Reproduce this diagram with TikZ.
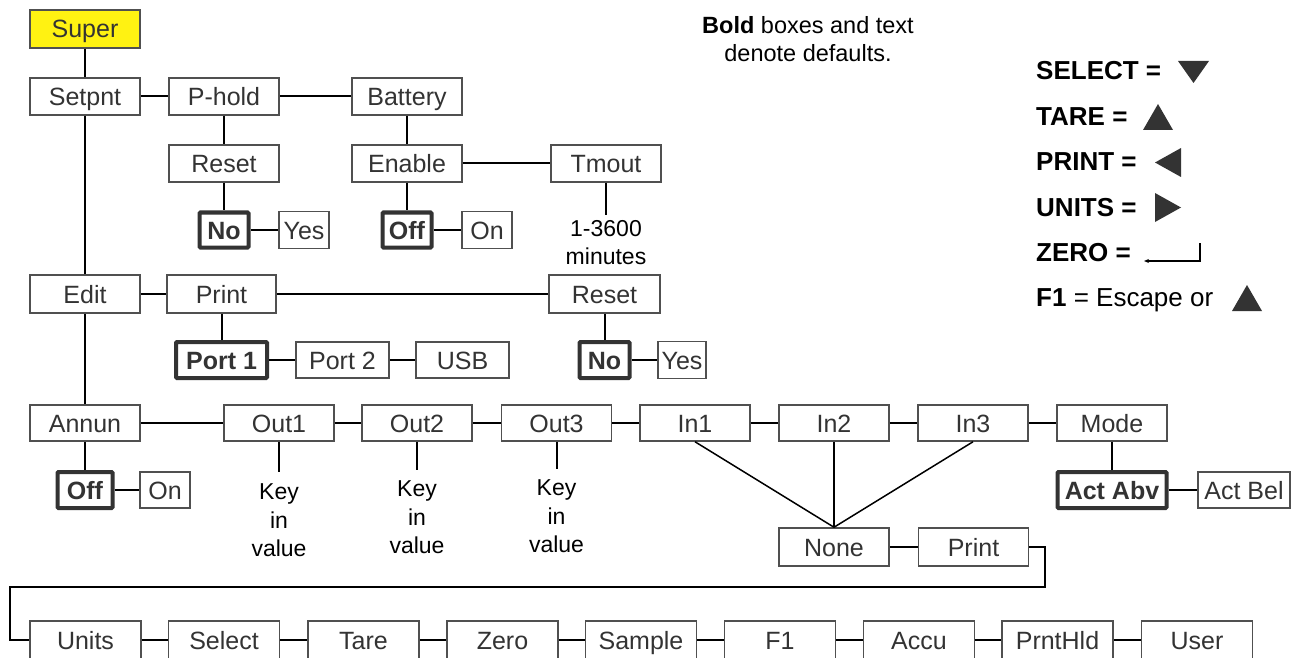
\documentclass[tikz,border=0pt]{standalone}
\usepackage{fontspec}
\setmainfont{Liberation Sans}
\usetikzlibrary{arrows.meta}
\definecolor{boxline}{HTML}{505050}
\definecolor{txt}{HTML}{333333}
\definecolor{superfill}{HTML}{FFF212}
\begin{document}
\begin{tikzpicture}[x=1pt,y=-1pt,
  box/.style={draw=boxline, line width=1.5pt, fill=white, minimum width=110pt, minimum height=37pt,
    inner sep=0pt, text=txt, text height=18pt, text depth=0pt, font=\fontsize{25}{29}\selectfont},
  defbox/.style={box, draw=txt, line width=4pt, rounded corners=1pt, font=\fontsize{25}{29}\selectfont\bfseries},
  conn/.style={line width=2pt, draw=black},
  note/.style={align=center, inner sep=0pt, anchor=north, text=black, font=\fontsize{23}{28.5}\selectfont},
  legend/.style={anchor=base west, inner sep=0pt, text=black, font=\fontsize{26}{30}\selectfont\bfseries},
  tri/.style={fill=txt, draw=none}
]
\useasboundingbox (0,0) rectangle (1294,658);
\clip (0,0) rectangle (1294,658);

% ---- top block
\node[box, fill=superfill, minimum height=38pt] (super) at (85,29) {Super};
\node[box] (setpnt) at (85,96.5) {Setpnt};
\node[box] (phold) at (224,96.5) {P-hold};
\node[box] (battery) at (407,96.5) {Battery};
\node[box] (reset1) at (224,163.5) {Reset};
\node[box] (enable) at (407,163.5) {Enable};
\node[box] (tmout) at (606,163.5) {Tmout};
\node[defbox, minimum width=49pt, minimum height=35pt] (no1) at (224,230) {No};
\node[box, minimum width=50pt] (yes1) at (304,230) {Yes};
\node[defbox, minimum width=49pt, minimum height=35pt] (off1) at (407,230) {Off};
\node[box, minimum width=50pt] (on1) at (487,230) {On};
\coordinate (tmend) at (606,215);
\node[note] (tmtxt) at (606,220) {1-3600\\minutes};

% ---- edit block
\node[box, minimum height=38pt] (edit) at (85,294) {Edit};
\node[box, minimum width=109pt, minimum height=38pt] (print1) at (221.5,294) {Print};
\node[box, minimum width=111pt, minimum height=38pt] (reset2) at (604.5,294) {Reset};
\node[defbox, minimum width=91pt, minimum height=36pt] (port1) at (221.5,360) {Port 1};
\node[box, minimum width=93pt, minimum height=36pt] (port2) at (342.5,360) {Port 2};
\node[box, minimum width=93pt, minimum height=36pt] (usb) at (462.5,360) {USB};
\node[defbox, minimum width=50pt, minimum height=36pt] (no2) at (604.5,360) {No};
\node[box, minimum width=48pt] (yes2) at (682,360) {Yes};

% ---- annun block
\node[box, minimum height=36pt] (annun) at (85,423) {Annun};
\node[box, minimum height=36pt] (out1) at (279,423) {Out1};
\node[box, minimum height=36pt] (out2) at (417,423) {Out2};
\node[box, minimum height=36pt] (out3) at (556.5,423) {Out3};
\node[box, minimum height=36pt] (in1) at (695,423) {In1};
\node[box, minimum height=36pt] (in2) at (834,423) {In2};
\node[box, minimum height=36pt] (in3) at (973,423) {In3};
\node[box, minimum height=36pt] (mode) at (1112,423) {Mode};
\node[defbox, minimum width=55pt, minimum height=36pt] (off3) at (85,490) {Off};
\node[box, minimum width=50pt, minimum height=36pt] (on3) at (165,490) {On};
\coordinate (k1) at (279,472);
\coordinate (k2) at (417,470);
\coordinate (k3) at (556.5,469);
\node[note] (key1) at (279,483.5) {Key\\in\\value};
\node[note] (key2) at (417,480.5) {Key\\in\\value};
\node[note] (key3) at (556.5,479.5) {Key\\in\\value};
\node[defbox, minimum width=109pt, minimum height=36pt] (actabv) at (1112,490) {Act Abv};
\node[box, minimum width=92pt, minimum height=36pt] (actbel) at (1244,490) {Act Bel};
\node[box, minimum height=38pt] (none) at (834,547) {None};
\node[box, minimum height=38pt] (print3) at (973.5,547) {Print};
\coordinate (bend) at (10,587);

% ---- bottom row
\node[box, minimum width=111pt, minimum height=38pt] (units) at (85.5,640) {Units};
\node[box, minimum width=111pt, minimum height=38pt] (select) at (224,640) {Select};
\node[box, minimum width=111pt, minimum height=38pt] (tare) at (363.5,640) {Tare};
\node[box, minimum width=111pt, minimum height=38pt] (zero) at (502.5,640) {Zero};
\node[box, minimum width=111pt, minimum height=38pt] (sample) at (641,640) {Sample};
\node[box, minimum width=111pt, minimum height=38pt] (f1) at (780,640) {F1};
\node[box, minimum width=111pt, minimum height=38pt] (accu) at (919,640) {Accu};
\node[box, minimum width=111pt, minimum height=38pt] (prnthld) at (1057.5,640) {PrntHld};
\node[box, minimum width=111pt, minimum height=38pt] (user) at (1197,640) {User};

% ---- connectors
\draw[conn] (super) -- (setpnt);
\draw[conn] (setpnt) -- (phold);
\draw[conn] (phold) -- (battery);
\draw[conn] (phold) -- (reset1);
\draw[conn] (reset1) -- (no1);
\draw[conn] (no1) -- (yes1);
\draw[conn] (battery) -- (enable);
\draw[conn] (enable) -- (off1);
\draw[conn] (off1) -- (on1);
\draw[conn] (enable) -- (tmout);
\draw[conn] (tmout) -- (tmend);
\draw[conn] (setpnt) -- (edit);
\draw[conn] (edit) -- (print1);
\draw[conn] (print1) -- (reset2);
\draw[conn] (print1) -- (port1);
\draw[conn] (port1) -- (port2);
\draw[conn] (port2) -- (usb);
\draw[conn] (reset2) -- (no2);
\draw[conn] (no2) -- (yes2);
\draw[conn] (edit) -- (annun);
\draw[conn] (annun) -- (out1);
\draw[conn] (out1) -- (out2);
\draw[conn] (out2) -- (out3);
\draw[conn] (out3) -- (in1);
\draw[conn] (in1) -- (in2);
\draw[conn] (in2) -- (in3);
\draw[conn] (in3) -- (mode);
\draw[conn] (annun) -- (off3);
\draw[conn] (off3) -- (on3);
\draw[conn] (out1) -- (k1);
\draw[conn] (out2) -- (k2);
\draw[conn] (out3) -- (k3);
\draw[conn] (mode) -- (actabv);
\draw[conn] (actabv) -- (actbel);
\draw[line width=1.5pt] (in1.south) -- (none.north);
\draw[line width=1.5pt] (in2.south) -- (none.north);
\draw[line width=1.5pt] (in3.south) -- (none.north);
\draw[conn] (none) -- (print3);
\draw[conn] (print3.east) -- ++(16,0) |- (bend) |- (units.west);
\draw[conn] (units) -- (select);
\draw[conn] (select) -- (tare);
\draw[conn] (tare) -- (zero);
\draw[conn] (zero) -- (sample);
\draw[conn] (sample) -- (f1);
\draw[conn] (f1) -- (accu);
\draw[conn] (accu) -- (prnthld);
\draw[conn] (prnthld) -- (user);

% ---- note
\node[note, font=\fontsize{23.5}{28}\selectfont] (bold) at (808,16) {\textbf{Bold} boxes and text\\denote defaults.};

% ---- legend
\node[legend] (lsel) at (1036,80) {SELECT =};
\node[legend] (ltare) at (1036,125.5) {TARE =};
\node[legend] (lprint) at (1036,171) {PRINT =};
\node[legend] (lunits) at (1036,216) {UNITS =};
\node[legend] (lzero) at (1036,261) {ZERO =};
\node[legend] (lf1) at (1036,306.5) {F1 \mdseries= Escape or};
\fill[tri] (1178,61) -- (1209,61) -- (1193.5,83) -- cycle;
\fill[tri] (1143,130) -- (1173,130) -- (1158,104) -- cycle;
\fill[tri] (1181,148) -- (1181,177) -- (1155,162.5) -- cycle;
\fill[tri] (1155,193) -- (1155,222) -- (1181,207.5) -- cycle;
\draw[line width=1.2pt, -{Stealth[length=5pt,width=4pt]}] (1200,243) -- (1200,261) -- (1144,261);
\fill[tri] (1232,311) -- (1262,311) -- (1247,285) -- cycle;
\end{tikzpicture}
\end{document}
